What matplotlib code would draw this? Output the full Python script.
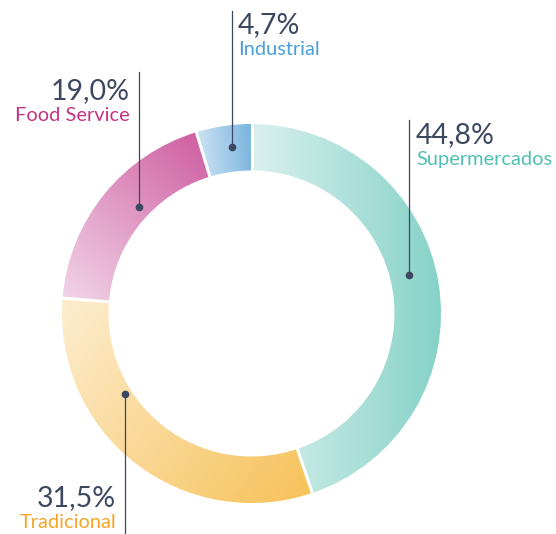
import numpy as np
import matplotlib.pyplot as plt
from matplotlib.patches import Wedge
from matplotlib.colors import LinearSegmentedColormap

# data
categories = ['Supermercados', 'Tradicional', 'Food Service', 'Industrial']
shares = [44.8, 31.5, 19.0, 4.7]

# style: light -> dark gradient per slice and the direction it runs (offsets from centre, px, y up)
grad_colors = [('#daf1ee', '#86d2c7'), ('#fdedcf', '#f7c35d'),
               ('#f1d4e7', '#cf60a3'), ('#c8e0f2', '#7cb6df')]
grad_dirs = [((0, 0), (190, 0)), ((-190, 13), (50, -182)),
             ((-186, 13), (-46, 173)), ((-51, 168), (-1, 173))]
text_colors = ['#4fc0b2', '#f5a425', '#c4337f', '#4b9fd8']
dark = '#3c4760'

# layout in image pixels (y down): leader x, dot y, line end y ; label x, baseline, align
leaders = [(409, 275, 120), (125, 394, 534), (139, 207, 72), (232, 147, 11)]
label_pos = [(416, 143, 'left'), (116, 506, 'right'), (130, 99, 'right'), (238, 33, 'left')]

W, H = 556, 534
cx, cy = 251.5, H - 313.5
r_out, r_in = 189.5, 143.0

plt.rcParams['font.family'] = ['Lato', 'DejaVu Sans']
fig = plt.figure(figsize=(W / 100, H / 100), dpi=100)
ax = fig.add_axes([0, 0, 1, 1])
ax.set_xlim(0, W)
ax.set_ylim(0, H)
ax.axis('off')

# gradient grid over the ring's bounding box
n = 500
xs = np.linspace(-r_out, r_out, n)
ys = np.linspace(-r_out, r_out, n)
gx, gy = np.meshgrid(xs, ys)

start = 0.0
bounds = []
for i, v in enumerate(shares):
    t2 = 90 - start * 3.6
    t1 = 90 - (start + v) * 3.6
    bounds.append(t2)
    start += v
    wedge = Wedge((cx, cy), r_out, t1, t2, width=r_out - r_in, facecolor='none', edgecolor='none')
    ax.add_patch(wedge)
    (ax0, ay0), (bx0, by0) = grad_dirs[i]
    dx, dy = bx0 - ax0, by0 - ay0
    t = ((gx - ax0) * dx + (gy - ay0) * dy) / (dx * dx + dy * dy)
    t = np.clip(t, 0, 1)
    cmap = LinearSegmentedColormap.from_list('g%d' % i, grad_colors[i])
    im = ax.imshow(t, cmap=cmap, vmin=0, vmax=1, origin='lower',
                   extent=[cx - r_out, cx + r_out, cy - r_out, cy + r_out],
                   interpolation='bilinear', zorder=1)
    im.set_clip_path(wedge)

# white separators between slices
for b in bounds:
    a = np.deg2rad(b)
    ax.plot([cx + (r_in - 2) * np.cos(a), cx + (r_out + 2) * np.cos(a)],
            [cy + (r_in - 2) * np.sin(a), cy + (r_out + 2) * np.sin(a)],
            color='white', lw=2.2, zorder=2, solid_capstyle='butt')

ax.set_xlim(0, W)
ax.set_ylim(0, H)

# leader lines, dots and labels
for i, cat in enumerate(categories):
    lx, dot_y, end_y = leaders[i]
    ax.plot([lx, lx], [H - dot_y, H - end_y], color=dark, lw=0.9, zorder=3)
    ax.plot(lx, H - dot_y, 'o', color=dark, ms=4.5, zorder=4)
    tx, base, ha = label_pos[i]
    pct = ('%.1f' % shares[i]).replace('.', ',') + '%'
    ax.text(tx, H - base, pct, ha=ha, va='baseline', fontsize=20.5, color=dark,
            fontweight='normal', zorder=5)
    ax.text(tx, H - base - 22, cat, ha=ha, va='baseline', fontsize=14.4,
            color=text_colors[i], fontweight='normal', zorder=5)

plt.savefig('out.png', dpi=100)
